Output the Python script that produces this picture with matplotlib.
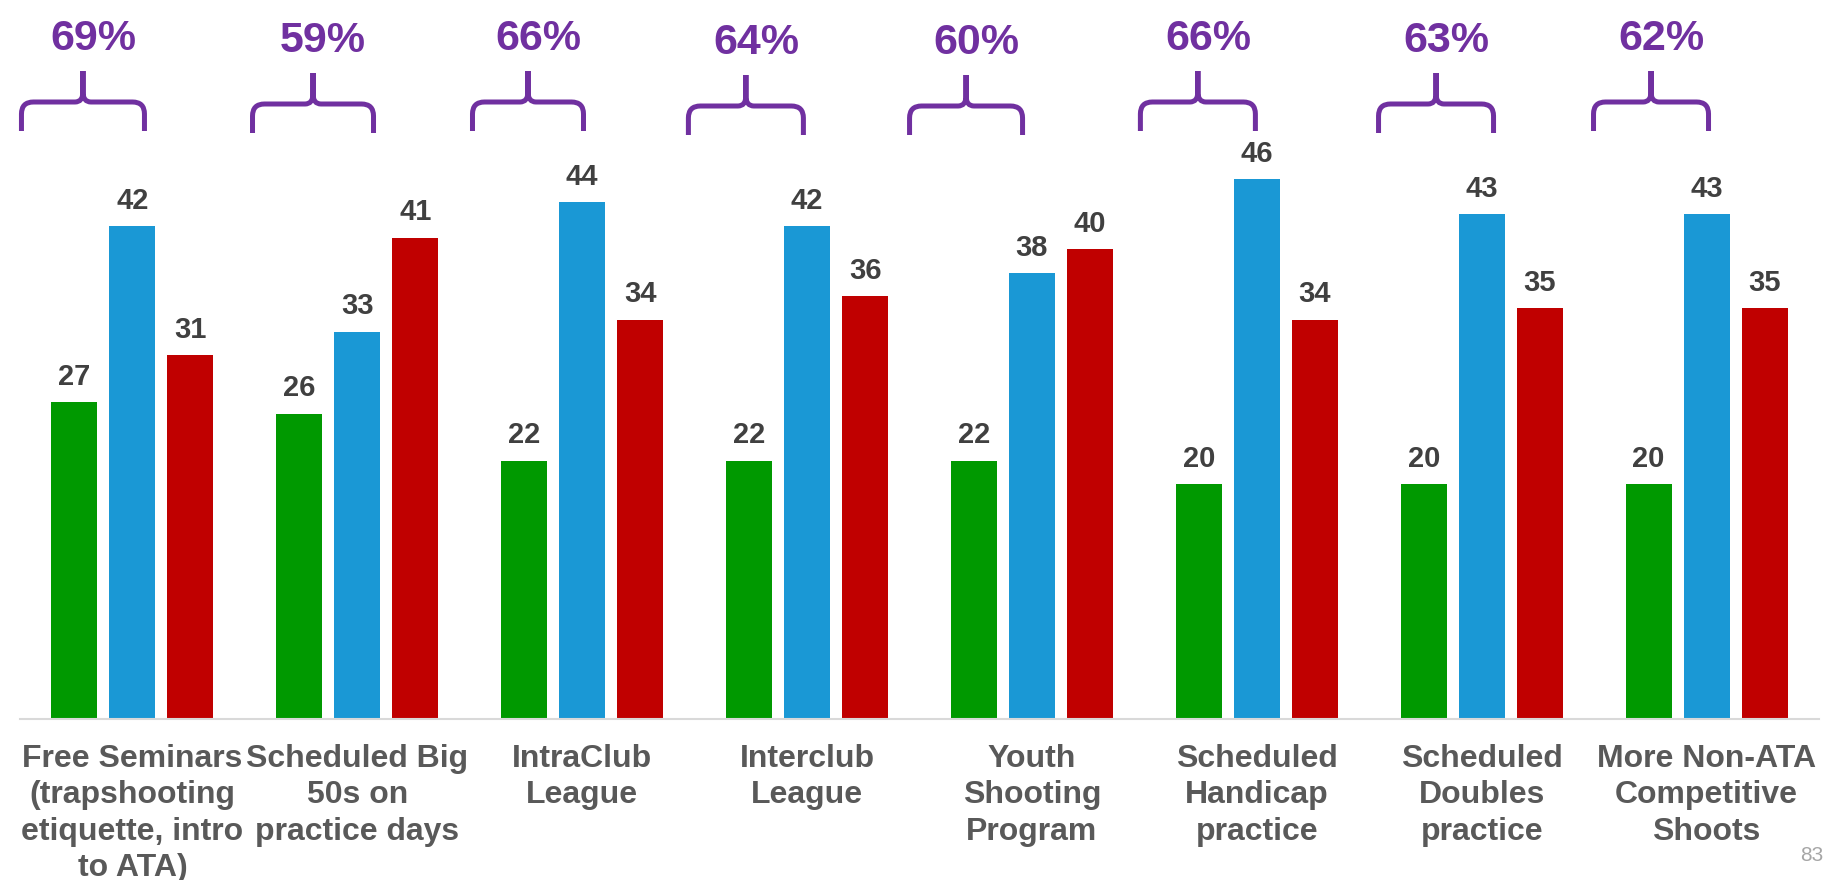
import numpy as np
import matplotlib.pyplot as plt
from matplotlib.path import Path
from matplotlib.patches import PathPatch

plt.rcParams['font.family'] = ['Liberation Sans', 'DejaVu Sans']

categories = [
    "Free Seminars\n(trapshooting\netiquette, intro\nto ATA)",
    "Scheduled Big\n50s on\npractice days",
    "IntraClub\nLeague",
    "Interclub\nLeague",
    "Youth\nShooting\nProgram",
    "Scheduled\nHandicap\npractice",
    "Scheduled\nDoubles\npractice",
    "More Non-ATA\nCompetitive\nShoots",
]
green_vals = [27, 26, 22, 22, 22, 20, 20, 20]
blue_vals = [42, 33, 44, 42, 38, 46, 43, 43]
red_vals = [31, 41, 34, 36, 40, 34, 35, 35]
pct_vals = [69, 59, 66, 64, 60, 66, 63, 62]

# brace layout (offset from group centre, half width px, vertical shift px)
brace_offsets = [-0.220, -0.197, -0.241, -0.272, -0.293, -0.262, -0.203, -0.247]
brace_halfw = [64, 63, 58, 60, 59, 60, 60, 60]
brace_shift = [0, 2, 0, 4, 4, 0, 2, 0]

GREEN = '#009900'
BLUE = '#1A98D5'
RED = '#C00000'
PURPLE = '#7030A0'

W, H = 1826, 880
base_px = 719
px_per_y = 11.74
left_px, right_px = 20, 1819
px_per_x = (right_px - left_px) / 8

fig = plt.figure(figsize=(W / 100, H / 100), dpi=100)
ax = fig.add_axes([left_px / W, (H - base_px) / H, (right_px - left_px) / W, base_px / H])
ax.set_xlim(-0.5, 7.5)
ax.set_ylim(0, base_px / px_per_y)

x = np.arange(len(categories))
bw = 46 / px_per_x
step = 58 / px_per_x

for vals, col, off in [(green_vals, GREEN, -step), (blue_vals, BLUE, 0), (red_vals, RED, step)]:
    bars = ax.bar(x + off, vals, width=bw, color=col, zorder=2)
    for b, v in zip(bars, vals):
        ax.annotate(str(v), (b.get_x() + b.get_width() / 2, v), xytext=(0, 12.5),
                    textcoords='offset points', ha='center', va='baseline',
                    fontsize=21, fontweight='bold', color='#404040')


def draw_brace(cx, hw, dy):
    def P(dx, ypx):
        return (cx + dx / px_per_x, (base_px - ypx - dy) / px_per_y)
    hw = hw - 2.5
    verts = [P(-hw, 131), P(-hw, 114), P(-hw, 102), P(-hw + 12, 102), P(-8, 102),
             P(0, 102), P(0, 92), P(0, 71),
             P(0, 71), P(0, 92), P(0, 102), P(8, 102), P(hw - 12, 102),
             P(hw, 102), P(hw, 114), P(hw, 131)]
    codes = [Path.MOVETO, Path.LINETO, Path.CURVE3, Path.CURVE3, Path.LINETO,
             Path.CURVE3, Path.CURVE3, Path.LINETO,
             Path.MOVETO, Path.LINETO, Path.CURVE3, Path.CURVE3, Path.LINETO,
             Path.CURVE3, Path.CURVE3, Path.LINETO]
    patch = PathPatch(Path(verts, codes), facecolor='none', edgecolor=PURPLE,
                      lw=3.6, capstyle='butt', joinstyle='round', clip_on=False)
    ax.add_patch(patch)


for i, p in enumerate(pct_vals):
    cx = i + brace_offsets[i]
    draw_brace(cx, brace_halfw[i], brace_shift[i])
    ax.text(cx + 10 / px_per_x, (base_px - 39 - brace_shift[i]) / px_per_y, f"{p}%",
            ha='center', va='center', fontsize=31, fontweight='bold', color=PURPLE,
            clip_on=False)

ax.set_xticks(x, categories, fontsize=23, fontweight='bold', color='#595959', linespacing=1.28)
ax.tick_params(axis='x', length=0, pad=18)
ax.set_yticks([])
for s in ['left', 'right', 'top']:
    ax.spines[s].set_visible(False)
ax.spines['bottom'].set_color('#D9D9D9')
ax.spines['bottom'].set_linewidth(1.5)

fig.text(1823 / W, 1 - 861 / H, '83', ha='right', va='baseline', fontsize=15, color='#A6A6A6')

fig.savefig('out.png', dpi=100)
